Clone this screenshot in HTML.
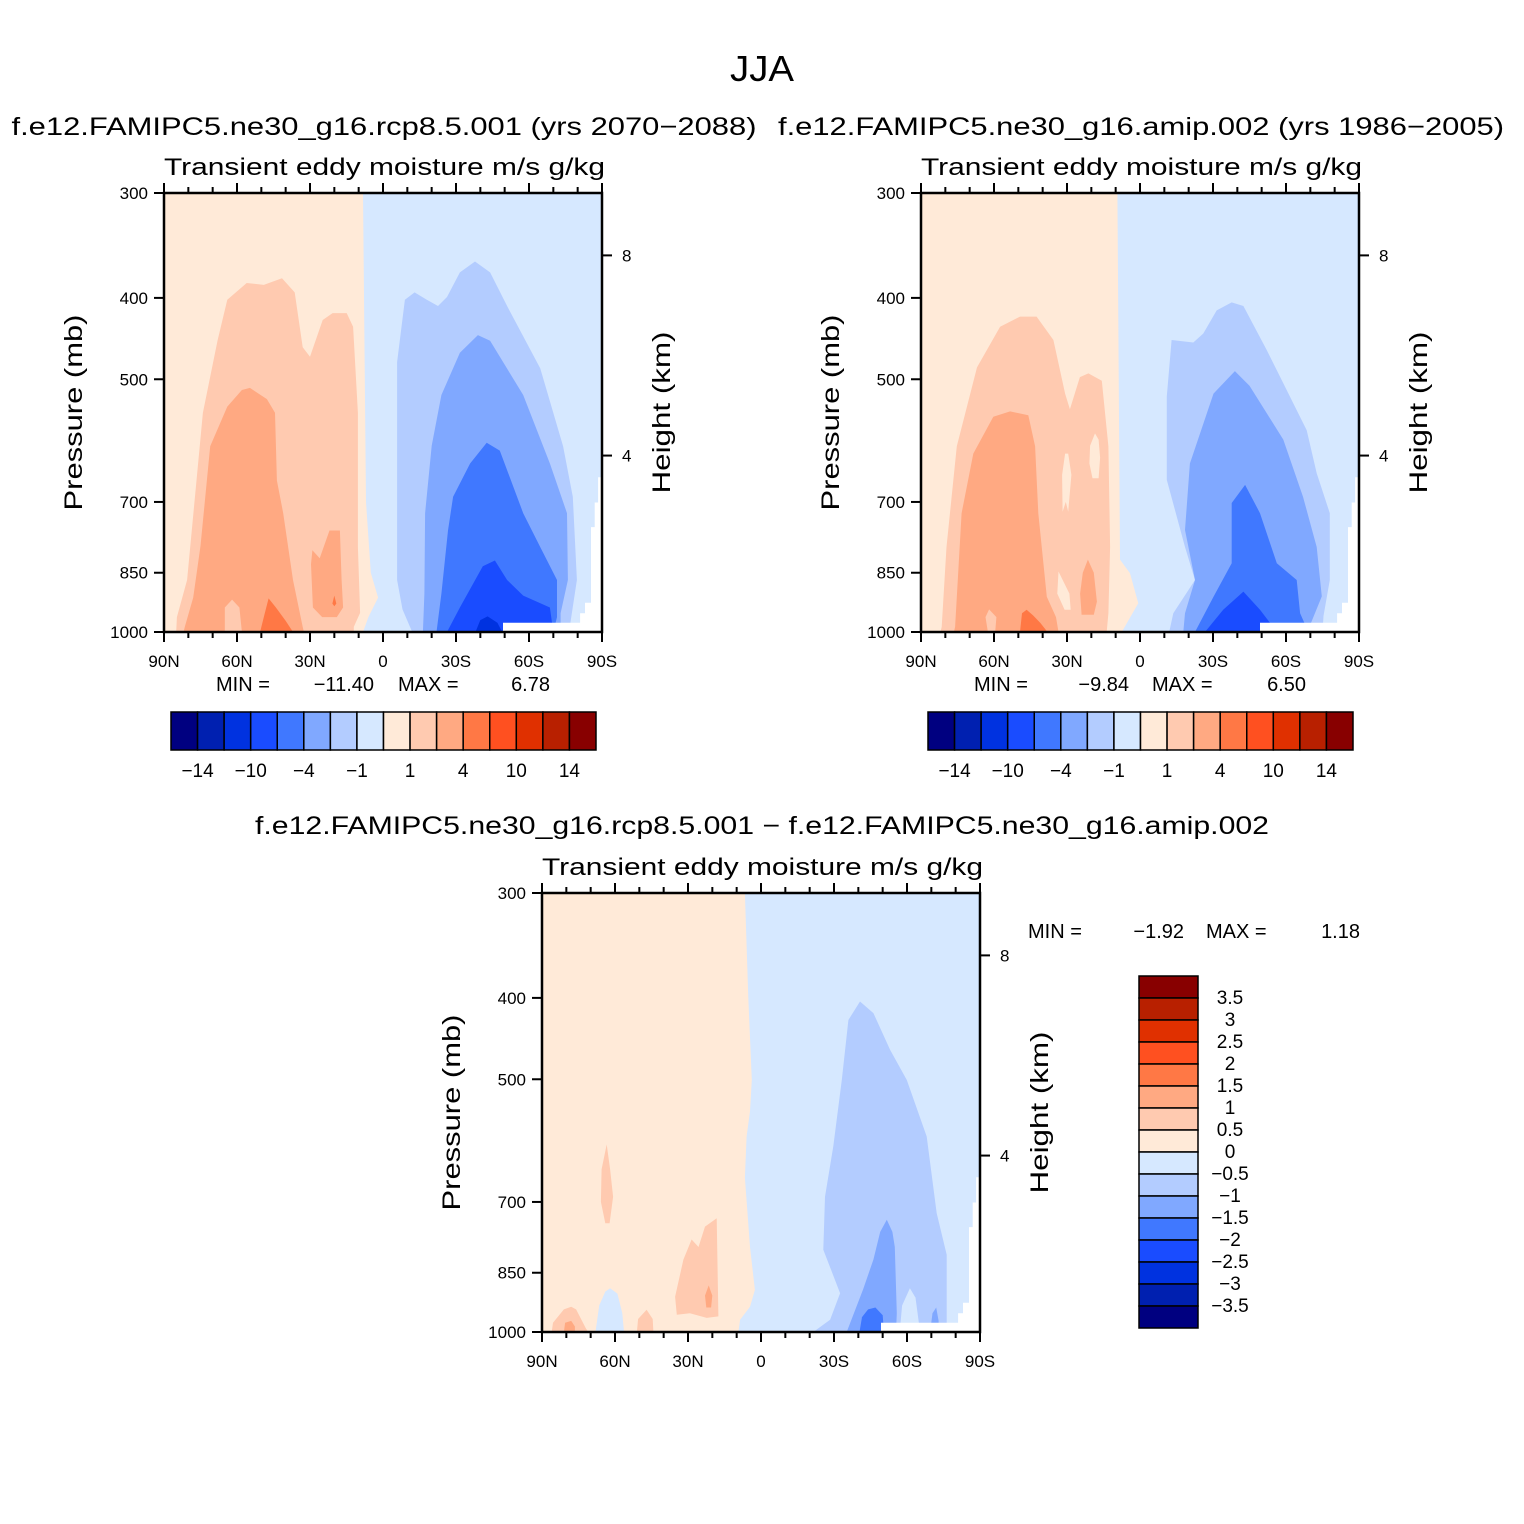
<!DOCTYPE html>
<html><head><meta charset="utf-8"><title>JJA Transient eddy moisture</title>
<style>
html,body{margin:0;padding:0;background:#fff;}
svg{display:block;font-family:"Liberation Sans",Arial,sans-serif;}
text{fill:#000;}
</style></head>
<body>
<svg id="chart" width="1524" height="1524" viewBox="0 0 1524 1524" xmlns="http://www.w3.org/2000/svg">
<rect width="1524" height="1524" fill="#fff"/>
<text x="762" y="81" font-size="36" text-anchor="middle" textLength="64" lengthAdjust="spacingAndGlyphs">JJA</text>
<text x="384" y="135" font-size="25" text-anchor="middle" textLength="745" lengthAdjust="spacingAndGlyphs">f.e12.FAMIPC5.ne30_g16.rcp8.5.001 (yrs 2070−2088)</text>
<text x="1141" y="135" font-size="25" text-anchor="middle" textLength="726" lengthAdjust="spacingAndGlyphs">f.e12.FAMIPC5.ne30_g16.amip.002 (yrs 1986−2005)</text>
<text x="762" y="834" font-size="25" text-anchor="middle" textLength="1014" lengthAdjust="spacingAndGlyphs">f.e12.FAMIPC5.ne30_g16.rcp8.5.001 − f.e12.FAMIPC5.ne30_g16.amip.002</text>
<g id="root"></g>
</svg>
<script>
const NS='http://www.w3.org/2000/svg';
const palette=['#000080','#0020B0','#0032E0','#1A4CFF','#4078FF','#80A8FF','#B3CCFF','#D6E8FF','#FFEAD8','#FFCAB0','#FFA982','#FF7845','#FF5020','#E03000','#B82000','#880000'];
const latTicks=[90,60,30,0,-30,-60,-90];
const latTickLabels=['90N','60N','30N','0','30S','60S','90S'];
const pTicks=[300,400,500,700,850,1000];
const heightTicks=[4,8];
const cbLabels12=['−14','−10','−4','−1','1','4','10','14'];
const cbLabels3=['3.5','3','2.5','2','1.5','1','0.5','0','−0.5','−1','−1.5','−2','−2.5','−3','−3.5'];
const minMax1=['−11.40','6.78'];
const minMax2=['−9.84','6.50'];
const minMax3=['−1.92','1.18'];

const maskPts=[[-88.4,654],[-90,654],[-90,1000],[-49.3,1000],[-49.3,975],[-81,975],[-81,950],[-83,950],[-83,923],[-85.5,923],[-85.5,750],[-87,750],[-87,701],[-88.4,701]];

const p1Peach=[[90,300],[8.2,300],[7,700],[5,850],[2,910],[6,960],[8.2,1000],[90,1000]];
const p1L2=[[85,1000],[84.7,960],[80.5,867],[74,548],[68,450],[64,402],[56,384],[49,386],[41.5,379],[36.3,394],[33,458],[30,470],[24.8,425],[20.7,417],[14.9,417],[12.3,433],[10.3,548],[10.3,792],[9.4,949],[12,986],[12,1000]];
const p1L3a=[[82,1000],[81.4,985],[78,910],[75,790],[71,601],[64,539],[58,515],[54.7,512],[47.7,528],[44.4,548],[43.6,660],[41,722],[37,867],[33,986],[32.5,1000]];
const p1L2spot=[[65,1000],[65,935],[62,915],[59,935],[58,1000]];
const p1L4a=[[50.5,1000],[49,960],[47,912],[44,935],[40,970],[37,1000]];
const p1L3b=[[29.6,830],[29,799],[26,817],[22,757],[17.7,757],[17,867],[16.4,935],[19,960],[25,960],[28.8,935]];
const p1L4b=[[20.8,925],[20,905],[19.2,925],[20,932]];
const p1B3=[[-12,1000],[-8,940],[-5.8,867],[-5.8,722],[-5.8,601],[-5.8,477],[-9,402],[-13,394],[-18,402],[-22.6,409],[-26.3,399],[-31.6,373],[-37.8,362],[-44,373],[-51,409],[-64.6,485],[-74,601],[-78,690],[-79.7,867],[-77,975],[-77,1000]];
const p1B4=[[-16.4,1000],[-17,900],[-17.3,722],[-20,600],[-24,522],[-31.6,465],[-39,443],[-44,450],[-57.6,522],[-68.6,630],[-75.6,722],[-76,867],[-73,950],[-73,1000]];
const p1B5=[[-22,1000],[-24,900],[-26.7,757],[-28.8,690],[-35.8,630],[-42.6,595],[-48,608],[-57.6,722],[-64.6,792],[-71.5,867],[-71.5,960],[-70,1000]];
const p1B6=[[-26.3,1000],[-31.6,935],[-41,835],[-46,822],[-51,867],[-57.6,905],[-68.6,935],[-70,1000]];
const p1B7=[[-38,1000],[-40,968],[-43,958],[-47,975],[-49,1000]];

const p2Peach=[[90,300],[9.3,300],[8.2,820],[4.1,851],[0.7,924],[4,960],[7.5,1000],[90,1000]];
const p2L2=[[82,1000],[81.5,986],[79.5,792],[75.3,601],[67,484],[57.5,433],[49.3,421],[42.5,421],[35.6,449],[30.8,520],[28.8,543],[24.7,497],[21.2,492],[15.7,502],[13,601],[12.3,792],[13,950],[13.7,1000]];
const p2Hole1=[[18.5,580],[20.5,600],[20.8,630],[19.5,656],[17,656],[16.4,620],[17,590]];
const p2Hole2=[[30.8,613],[32,650],[31.8,719],[30.5,700],[29.5,719],[28.2,650],[29.5,613]];
const p2Hole3=[[33.5,847],[34,900],[31,941],[28.5,941],[29,900],[31.5,870]];
const p2L3a=[[76.5,1000],[76,986],[73.3,722],[68.5,613],[60.3,554],[53.4,546],[45.9,552],[43.1,601],[41.8,722],[38.3,908],[34.5,960],[33.5,1000]];
const p2L2spot=[[63.5,960],[62,940],[59,960],[59.5,1000],[62.5,1000]];
const p2L4=[[49.3,1000],[48.5,950],[46.6,941],[44,955],[41,975],[38,1000]];
const p2L3b=[[21.4,820],[19,850],[17.7,920],[19,954],[24,954],[24.6,900],[23.5,850]];
const p2B3=[[-12,1000],[-13.7,950],[-22.6,867],[-18.5,792],[-11,659],[-11,524],[-13,449],[-21.9,452],[-26,441],[-31.5,414],[-37.7,405],[-42.5,409],[-52,461],[-68.5,575],[-72.6,647],[-78,722],[-78,867],[-75.4,957],[-75,1000]];
const p2B4=[[-17.8,1000],[-18.5,950],[-22.6,867],[-18.5,756],[-20.5,630],[-30.2,520],[-39,489],[-45,509],[-58.9,590],[-67,690],[-72.6,792],[-74.7,907],[-70,980],[-69,1000]];
const p2B5=[[-22.6,1000],[-30.2,908],[-37.7,828],[-37.7,702],[-43.2,668],[-49.3,722],[-56.2,828],[-64.4,867],[-65.8,950],[-69.2,1000]];
const p2B6=[[-26.7,1000],[-34.2,941],[-42.5,895],[-49.3,941],[-53.4,975],[-54,1000]];

const p3Peach=[[90,300],[6.6,300],[5.2,400],[3.8,501],[4.5,546],[5.9,585],[6.6,655],[4.5,792],[2.5,891],[4.5,933],[8.6,967],[9.3,1000],[90,1000]];
const p3BlueBlob=[[68,1000],[66.5,930],[64,895],[62,887],[59,900],[57,950],[56.3,1000]];
const p3L2a=[[63.4,598],[62,640],[60.8,690],[62.2,742],[64,742],[65.8,700],[65.5,640]];
const p3L2b=[[35.3,908],[31.9,820],[28.5,776],[25.7,792],[23,749],[18.2,732],[17.5,958],[22.3,962],[29.2,950],[34.6,954]];
const p3L3b=[[21.5,880],[20,905],[20.5,935],[22.5,935],[23,905]];
const p3L2c=[[86,1000],[85.5,975],[81,940],[78,933],[76,940],[72,990],[71,1000]];
const p3L3c=[[81,1000],[80.5,975],[78,970],[76.5,985],[76.5,1000]];
const p3L2d=[[51,1000],[50.5,965],[47,941],[44.5,965],[44.2,1000]];
const p3B3=[[-21.5,1000],[-28.4,967],[-32.5,899],[-25.6,798],[-26.3,690],[-29.7,601],[-33.2,501],[-35.9,425],[-40.7,404],[-46.2,417],[-53,461],[-59.9,501],[-68.1,585],[-72.2,722],[-76.3,809],[-76.3,1000]];
const p3Hole=[[-57,1000],[-58,930],[-61.2,887],[-63.5,910],[-65.4,1000]];
const p3B4a=[[-35.2,1000],[-42,889],[-46.2,820],[-49,760],[-51.7,735],[-54,760],[-55,792],[-55.8,950],[-55.5,1000]];
const p3B4b=[[-69.5,1000],[-70.5,950],[-72,935],[-73,970],[-73,1000]];
const p3B5=[[-40.5,1000],[-41.5,960],[-44,940],[-47,935],[-50,955],[-50.5,1000]];

const panels=[
 {id:'panel1',f:{x:164,y:193,w:438,h:439},layers:[
   [7,null],[8,p1Peach],[9,p1L2],[10,p1L3a],[9,p1L2spot],[11,p1L4a],[10,p1L3b],[11,p1L4b],
   [6,p1B3],[5,p1B4],[4,p1B5],[3,p1B6],[2,p1B7]]},
 {id:'panel2',f:{x:921,y:193,w:438,h:439},layers:[
   [7,null],[8,p2Peach],[9,p2L2],[8,p2Hole1],[8,p2Hole2],[8,p2Hole3],[10,p2L3a],[9,p2L2spot],[11,p2L4],[10,p2L3b],
   [6,p2B3],[5,p2B4],[4,p2B5],[3,p2B6]]},
 {id:'panel3',f:{x:542,y:893,w:438,h:439},layers:[
   [7,null],[8,p3Peach],[7,p3BlueBlob],[9,p3L2a],[9,p3L2b],[10,p3L3b],[9,p3L2c],[10,p3L3c],[9,p3L2d],
   [6,p3B3],[7,p3Hole],[5,p3B4a],[5,p3B4b],[4,p3B5]]}
];

function xs(f,lat){return f.x+(90-lat)/180*f.w;}
function ys(f,p){return f.y+Math.log(p/300)/Math.log(1000/300)*f.h;}
function pOfZ(z){return 1013.25*Math.pow(1-2.2558e-5*z*1000,5.256);}
function mk(tag,attrs,parent){const e=document.createElementNS(NS,tag);for(const k in attrs)e.setAttribute(k,attrs[k]);parent.appendChild(e);return e;}
function txt(s,x,y,size,anchor,parent){const t=mk('text',{x:x,y:y,'font-size':size,'text-anchor':anchor},parent);t.textContent=s;return t;}

const root=document.getElementById('root');
panels.forEach((P,pi)=>{
  const f=P.f;
  const g=mk('g',{},root);
  
  
  const cp=mk('clipPath',{id:'clip'+pi},g);
  mk('rect',{x:f.x,y:f.y,width:f.w,height:f.h},cp);
  const cg=mk('g',{'clip-path':'url(#clip'+pi+')'},g);
  P.layers.forEach((L,li)=>{
    let el;
    if(L[1]===null){
      el=mk('rect',{x:f.x,y:f.y,width:f.w,height:f.h,fill:palette[L[0]]},cg);
    }else{
      const d=L[1].map(q=>xs(f,q[0]).toFixed(1)+','+ys(f,q[1]).toFixed(1)).join(' ');
      el=mk('polygon',{points:d,fill:palette[L[0]]},cg);
    }
    
    
  });
  const m=mk('polygon',{points:maskPts.map(q=>xs(f,q[0]).toFixed(1)+','+ys(f,q[1]).toFixed(1)).join(' '),fill:'#fff'},cg);
  
  
  const fr=mk('rect',{x:f.x,y:f.y,width:f.w,height:f.h,fill:'none',stroke:'#000','stroke-width':2.5},g);
  
  
  for(let lat=90;lat>=-90;lat-=10){
    const x=xs(f,lat);const major=(lat%30===0);const len=major?10:6;
    mk('line',{x1:x,y1:f.y+f.h,x2:x,y2:f.y+f.h+len,stroke:'#000','stroke-width':2},g);
    mk('line',{x1:x,y1:f.y,x2:x,y2:f.y-len,stroke:'#000','stroke-width':2},g);
  }
  latTicks.forEach((lat,i)=>{
    const t=txt(latTickLabels[i],xs(f,lat),f.y+f.h+35,17,'middle',g);
    
    
  });
  pTicks.forEach(p=>{
    const y=ys(f,p);
    mk('line',{x1:f.x-10,y1:y,x2:f.x,y2:y,stroke:'#000','stroke-width':2},g);
    const t=txt(String(p),f.x-16,y+6,17,'end',g);
    
    
  });
  heightTicks.forEach(z=>{
    const y=ys(f,pOfZ(z));
    mk('line',{x1:f.x+f.w,y1:y,x2:f.x+f.w+10,y2:y,stroke:'#000','stroke-width':2},g);
    const t=txt(String(z),f.x+f.w+20,y+6,17,'start',g);
    
    
  });
  const yt=txt('Pressure (mb)',0,0,25,'middle',g);
  yt.setAttribute('transform','translate('+(f.x-82)+','+(f.y+f.h/2)+') rotate(-90)');
  yt.setAttribute('textLength','196');
  yt.setAttribute('lengthAdjust','spacingAndGlyphs');
  
  
  const ht=txt('Height (km)',0,0,25,'middle',g);
  ht.setAttribute('transform','translate('+(f.x+f.w+68)+','+(f.y+f.h/2)+') rotate(-90)');
  ht.setAttribute('textLength','162');
  ht.setAttribute('lengthAdjust','spacingAndGlyphs');
  
  
  const st=txt('Transient eddy moisture m/s g/kg',f.x,f.y-18,24,'start',g);
  st.setAttribute('textLength','441');
  st.setAttribute('lengthAdjust','spacingAndGlyphs');
  
  
});

function minmax(vals,xMin,xVal,xMax,xMaxVal,y,name){
  const g=mk('g',{},root);
  
  
  txt('MIN  =',xMin,y,20,'start',g);
  txt(vals[0],xVal,y,20,'end',g);
  txt('MAX  =',xMax,y,20,'start',g);
  txt(vals[1],xMaxVal,y,20,'end',g);
}
minmax(minMax1,216,374,398,550,691,'panel1-min-max');
minmax(minMax2,974,1129,1152,1306,691,'panel2-min-max');
minmax(minMax3,1028,1184,1206,1360,938,'panel3-min-max');

function hbar(x0,name){
  const g=mk('g',{},root);
  
  
  const w=425/16;
  palette.forEach((c,i)=>{
    const r=mk('rect',{x:x0+i*w,y:712,width:w,height:38,fill:c,stroke:'#000','stroke-width':1.5},g);
    
    
  });
  cbLabels12.forEach((s,i)=>{
    const t=txt(s,x0+(2*i+1)*w,777,19,'middle',g);
    
    
  });
}
hbar(171,'panel1-colorbar');
hbar(928,'panel2-colorbar');

(function(){
  const g=mk('g',{},root);
  
  
  const h=22;
  for(let i=0;i<16;i++){
    const r=mk('rect',{x:1139,y:976+i*h,width:59,height:h,fill:palette[15-i],stroke:'#000','stroke-width':1.5},g);
    
    
  }
  cbLabels3.forEach((s,i)=>{
    const t=txt(s,1230,976+(i+1)*h+6,19,'middle',g);
    
    
  });
})();
</script>
</body></html>
